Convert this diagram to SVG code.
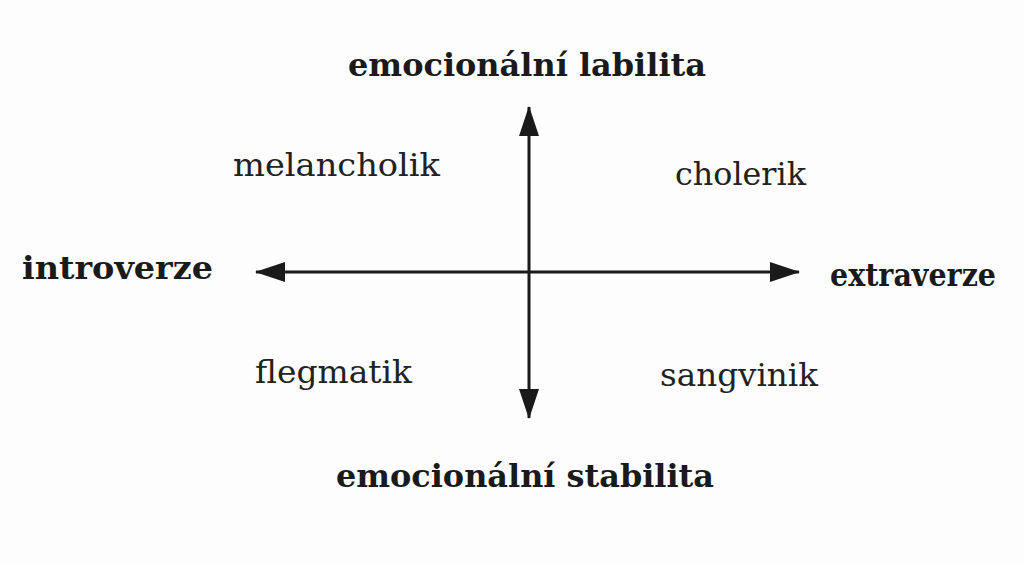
<svg xmlns="http://www.w3.org/2000/svg" width="1024" height="563" viewBox="0 0 1024 563">
<style>
.b{font-family:"DejaVu Serif","Liberation Serif",serif;font-weight:bold;font-size:31px;fill:#1a1a1a}
.n{font-family:"DejaVu Serif","Liberation Serif",serif;font-size:31px;fill:#222}
.ax{stroke:#1a1a1a;stroke-width:3;fill:none}
</style>
<defs>
<marker id="ah" viewBox="0 0 30 20" refX="29" refY="10" markerWidth="30" markerHeight="20" markerUnits="userSpaceOnUse" orient="auto-start-reverse">
<path d="M0,0 L30,10 L0,20 Z" fill="#1a1a1a"/>
</marker>
</defs>
<rect width="1024" height="563" fill="#fdfdfd"/>
<g id="connectors">
<line class="ax" x1="256" y1="272" x2="799" y2="272" marker-start="url(#ah)" marker-end="url(#ah)"/>
<line class="ax" x1="529" y1="107" x2="529" y2="418" marker-start="url(#ah)" marker-end="url(#ah)"/>
</g>
<g id="n-labilita"><text class="b" x="527" y="76" text-anchor="middle" textLength="358" lengthAdjust="spacingAndGlyphs">emocionální labilita</text></g>
<g id="n-stabilita"><text class="b" x="525" y="487" text-anchor="middle" textLength="378" lengthAdjust="spacingAndGlyphs">emocionální stabilita</text></g>
<g id="n-introverze"><text class="b" x="22" y="279" textLength="191" lengthAdjust="spacingAndGlyphs">introverze</text></g>
<g id="n-extraverze"><text class="b" x="830" y="286" textLength="166" lengthAdjust="spacingAndGlyphs">extraverze</text></g>
<g id="n-melancholik"><text class="n" x="233" y="176" textLength="207" lengthAdjust="spacingAndGlyphs">melancholik</text></g>
<g id="n-cholerik"><text class="n" x="675" y="185" textLength="131" lengthAdjust="spacingAndGlyphs">cholerik</text></g>
<g id="n-flegmatik"><text class="n" x="255" y="383" textLength="157" lengthAdjust="spacingAndGlyphs">flegmatik</text></g>
<g id="n-sangvinik"><text class="n" x="660" y="386" textLength="158" lengthAdjust="spacingAndGlyphs">sangvinik</text></g>
</svg>
